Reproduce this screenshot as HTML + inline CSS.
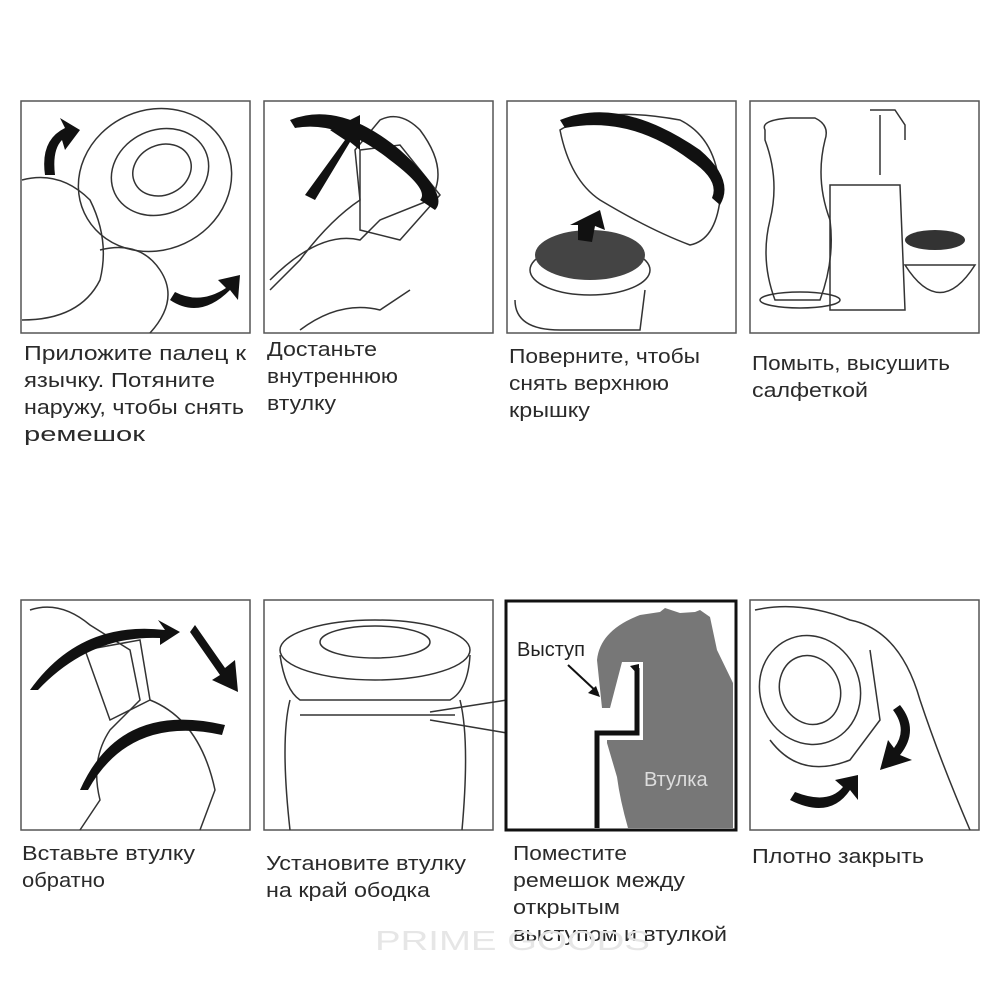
<!DOCTYPE html>
<html><head><meta charset="utf-8"><style>
html,body{margin:0;padding:0;background:#fff;}
svg{display:block}
text{font-family:"Liberation Sans",sans-serif;font-size:20px;fill:#2a2a2a;}
</style></head><body>
<svg width="1000" height="1000" viewBox="0 0 1000 1000" xmlns="http://www.w3.org/2000/svg">
<g fill="none" stroke="#555" stroke-width="1.5">
<rect x="21" y="101" width="229" height="232"/>
<rect x="264" y="101" width="229" height="232"/>
<rect x="507" y="101" width="229" height="232"/>
<rect x="750" y="101" width="229" height="232"/>
<rect x="21" y="600" width="229" height="230"/>
<rect x="264" y="600" width="229" height="230"/>
<rect x="750" y="600" width="229" height="230"/>
</g>
<!-- panel 1 -->
<g fill="none" stroke="#333" stroke-width="1.5">
<ellipse cx="155" cy="180" rx="78" ry="70" transform="rotate(-25 155 180)"/>
<ellipse cx="160" cy="172" rx="50" ry="42" transform="rotate(-25 160 172)"/>
<ellipse cx="162" cy="170" rx="30" ry="25" transform="rotate(-25 162 170)"/>
<path d="M22 180 Q60 170 90 200 Q110 240 100 280 Q80 320 22 320"/>
<path d="M100 250 Q140 240 160 270 Q180 300 150 333"/>
</g>
<path d="M45 175 Q40 140 65 128 L60 118 L80 130 L65 150 L62 140 Q52 150 55 175Z" fill="#111"/>
<path d="M170 300 Q200 320 230 290 L238 300 L240 275 L218 280 L226 288 Q200 305 175 292Z" fill="#111"/>
<!-- panel 2 -->
<g fill="none" stroke="#333" stroke-width="1.5">
<path d="M270 280 Q320 230 360 240 L380 220 L430 200 Q450 170 420 130 Q400 110 380 120 L355 150 L360 200 Q330 220 300 260 L270 290"/>
<path d="M360 150 L400 145 L440 195 L400 240 L360 230Z"/>
<path d="M300 330 Q340 300 380 310 L410 290"/>
</g>
<path d="M290 120 Q340 100 400 150 Q450 195 435 210 L420 200 Q430 190 390 160 Q340 120 295 128Z" fill="#111"/>
<path d="M305 195 L345 140 L330 130 L360 115 L360 150 L350 142 L315 200Z" fill="#111"/>
<!-- panel 3 -->
<g fill="none" stroke="#333" stroke-width="1.5">
<path d="M560 130 Q600 105 680 120 Q720 140 720 200 Q715 240 690 245 Q650 230 600 200 Q570 180 560 130Z"/>
<ellipse cx="590" cy="270" rx="60" ry="25"/>
<path d="M515 300 Q515 330 560 330 L640 330 L645 290"/>
</g>
<ellipse cx="590" cy="255" rx="55" ry="25" fill="#444"/>
<path d="M578 240 L578 225 L570 225 L600 210 L605 230 L595 226 L592 242Z" fill="#111"/>
<path d="M560 120 Q620 95 700 150 Q735 180 720 205 L712 198 Q720 180 690 160 Q630 115 565 128Z" fill="#111"/>
<!-- panel 4 -->
<g fill="none" stroke="#333" stroke-width="1.5">
<path d="M765 130 Q760 120 790 118 L815 118 Q830 125 825 140 Q815 180 830 220 Q835 260 820 300 L775 300 Q760 260 770 220 Q780 180 765 140Z"/>
<path d="M830 185 L900 185 L905 310 L830 310Z"/>
<ellipse cx="800" cy="300" rx="40" ry="8"/>
<path d="M905 265 Q940 320 975 265Z"/>
<path d="M870 110 L895 110 L905 125 L905 140 M880 115 L880 175"/>
</g>
<ellipse cx="935" cy="240" rx="30" ry="10" fill="#333"/>
<!-- captions top -->
<g style="" >
<text x="24" y="360" textLength="222" lengthAdjust="spacingAndGlyphs">Приложите палец к</text>
<text x="24" y="387" textLength="191" lengthAdjust="spacingAndGlyphs">язычку. Потяните</text>
<text x="24" y="414" textLength="220" lengthAdjust="spacingAndGlyphs">наружу, чтобы снять</text>
<text x="24" y="441" textLength="121" lengthAdjust="spacingAndGlyphs">ремешок</text>
<text x="267" y="356" textLength="110" lengthAdjust="spacingAndGlyphs">Достаньте</text>
<text x="267" y="383" textLength="131" lengthAdjust="spacingAndGlyphs">внутреннюю</text>
<text x="267" y="410" textLength="69" lengthAdjust="spacingAndGlyphs">втулку</text>
<text x="509" y="363" textLength="191" lengthAdjust="spacingAndGlyphs">Поверните, чтобы</text>
<text x="509" y="390" textLength="160" lengthAdjust="spacingAndGlyphs">снять верхнюю</text>
<text x="509" y="417" textLength="81" lengthAdjust="spacingAndGlyphs">крышку</text>
<text x="752" y="370" textLength="198" lengthAdjust="spacingAndGlyphs">Помыть, высушить</text>
<text x="752" y="397" textLength="116" lengthAdjust="spacingAndGlyphs">салфеткой</text>
</g>
<!-- panel 5 -->
<g fill="none" stroke="#333" stroke-width="1.5">
<path d="M30 610 Q60 600 90 625 L130 650 L140 700 L110 730 Q90 760 100 800 L80 830 M150 700 Q200 720 215 790 L200 830"/>
<path d="M85 650 L140 640 L150 700 L110 720 Z"/>
</g>
<path d="M30 690 Q80 620 165 630 L158 620 L180 632 L160 645 L160 638 Q90 635 38 690Z" fill="#111"/>
<path d="M80 790 Q120 700 225 725 L222 735 Q130 715 88 790Z" fill="#111"/>
<path d="M195 625 L225 668 L235 660 L238 692 L212 680 L220 675 L190 632Z" fill="#111"/>
<!-- panel 6 -->
<g fill="none" stroke="#333" stroke-width="1.5">
<ellipse cx="375" cy="650" rx="95" ry="30"/>
<ellipse cx="375" cy="642" rx="55" ry="16"/>
<path d="M280 655 Q285 690 300 700 L450 700 Q468 690 470 655"/>
<path d="M290 700 Q280 740 290 830 M460 700 Q470 740 462 830"/>
<path d="M300 715 L455 715"/>
<path d="M430 712 L507 700 M430 720 L507 733"/>
</g>
<!-- panel 7 -->
<rect x="506" y="601" width="230" height="229" fill="none" stroke="#111" stroke-width="3"/>
<path d="M597 660 Q600 630 640 615 L660 612 L665 608 L680 613 L695 612 L700 610 L710 617 L717 650 L733 683 L733 828 L628 828 Q620 800 617 777 L607 743 L607 740 L643 740 L643 662 L622 662 L610 708 L602 708 Z" fill="#777"/>
<path d="M597 828 L597 733 L637 733 L637 668" fill="none" stroke="#111" stroke-width="5"/>
<path d="M630 666 L639 664 L639 676Z" fill="#111"/>
<path d="M568 665 L598 693" stroke="#111" stroke-width="2"/>
<path d="M600 697 L588 693 L596 686Z" fill="#111"/>
<text x="517" y="656" style="font-size:20px;fill:#222">Выступ</text>
<text x="644" y="786" style="font-size:20px;fill:#ddd">Втулка</text>
<!-- panel 8 -->
<g fill="none" stroke="#333" stroke-width="1.5">
<ellipse cx="810" cy="690" rx="50" ry="55" transform="rotate(-20 810 690)"/>
<ellipse cx="810" cy="690" rx="30" ry="35" transform="rotate(-20 810 690)"/>
<path d="M770 740 Q800 780 850 760 L880 720 L870 650"/>
<path d="M755 610 Q800 600 850 620 Q900 630 920 700 Q940 760 970 830"/>
</g>
<path d="M900 705 Q920 730 900 755 L912 760 L880 770 L888 740 L894 748 Q908 730 893 710Z" fill="#111"/>
<path d="M790 800 Q830 820 850 790 L858 800 L858 775 L835 780 L843 787 Q828 805 795 792Z" fill="#111"/>
<!-- captions bottom -->
<text x="22" y="860" textLength="173" lengthAdjust="spacingAndGlyphs">Вставьте втулку</text>
<text x="22" y="887" textLength="83" lengthAdjust="spacingAndGlyphs">обратно</text>
<text x="266" y="870" textLength="200" lengthAdjust="spacingAndGlyphs">Установите втулку</text>
<text x="266" y="897" textLength="164" lengthAdjust="spacingAndGlyphs">на край ободка</text>
<text x="513" y="860" textLength="114" lengthAdjust="spacingAndGlyphs">Поместите</text>
<text x="513" y="887" textLength="172" lengthAdjust="spacingAndGlyphs">ремешок между</text>
<text x="513" y="914" textLength="107" lengthAdjust="spacingAndGlyphs">открытым</text>
<text x="513" y="941" textLength="214" lengthAdjust="spacingAndGlyphs">выступом и втулкой</text>
<text x="752" y="863" textLength="172" lengthAdjust="spacingAndGlyphs">Плотно закрыть</text>
<text x="375" y="950" textLength="275" lengthAdjust="spacingAndGlyphs" style="font-size:28px;fill:#e6e6e6">PRIME GOODS</text>
</svg>
</body></html>
